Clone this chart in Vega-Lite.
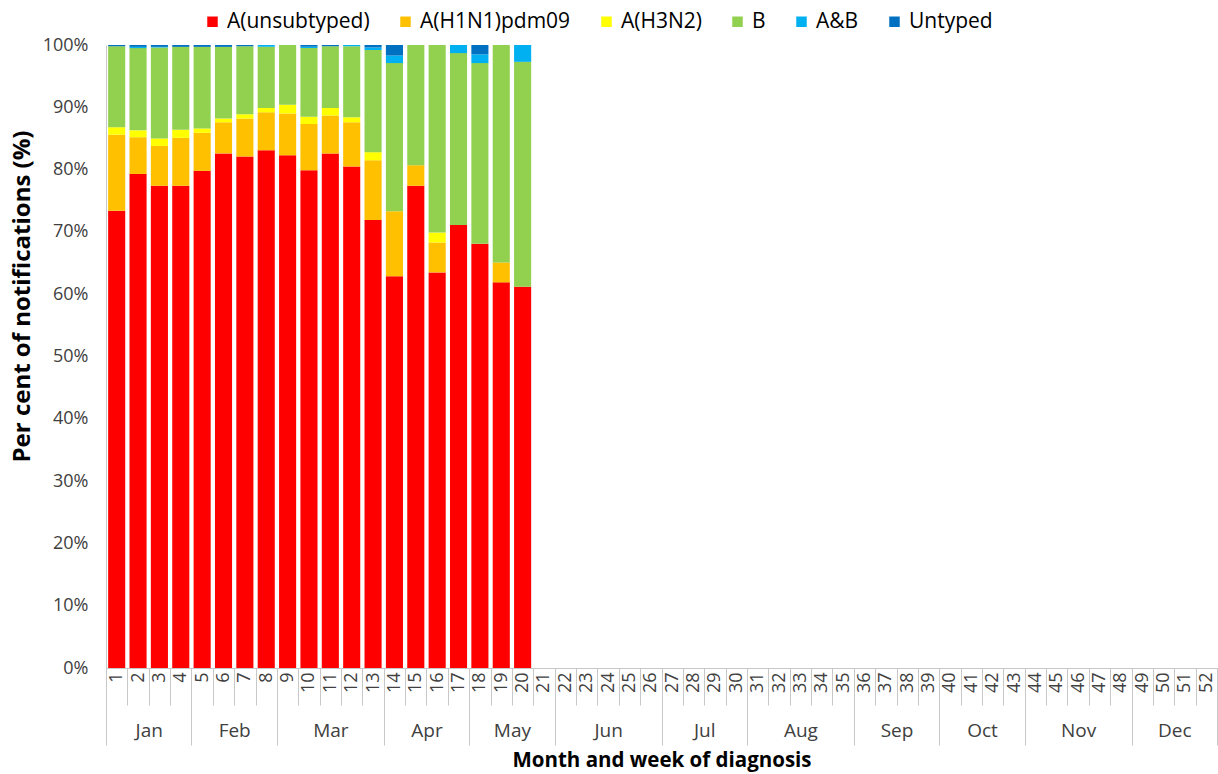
{
  "$schema": "https://vega.github.io/schema/vega-lite/v6.json",
  "width": 1111,
  "height": 623,
  "autosize": {"type": "none"},
  "padding": {"left": 106, "top": 45, "right": 1, "bottom": 106},
  "background": "white",
  "config": {
    "view": {"stroke": null},
    "font": "Open Sans",
    "axis": {"labelFont": "Open Sans", "titleFont": "Open Sans", "grid": false},
    "legend": {"labelFont": "Open Sans"}
  },
  "datasets": {
    "flu": [
      {"w": 1, "t": "A(unsubtyped)", "v": 73.4}, {"w": 1, "t": "A(H1N1)pdm09", "v": 12.2}, {"w": 1, "t": "A(H3N2)", "v": 1.2}, {"w": 1, "t": "B", "v": 13.0}, {"w": 1, "t": "Untyped", "v": 0.2},
      {"w": 2, "t": "A(unsubtyped)", "v": 79.3}, {"w": 2, "t": "A(H1N1)pdm09", "v": 5.9}, {"w": 2, "t": "A(H3N2)", "v": 1.1}, {"w": 2, "t": "B", "v": 13.2}, {"w": 2, "t": "A&B", "v": 0.2}, {"w": 2, "t": "Untyped", "v": 0.3},
      {"w": 3, "t": "A(unsubtyped)", "v": 77.4}, {"w": 3, "t": "A(H1N1)pdm09", "v": 6.4}, {"w": 3, "t": "A(H3N2)", "v": 1.2}, {"w": 3, "t": "B", "v": 14.6}, {"w": 3, "t": "A&B", "v": 0.1}, {"w": 3, "t": "Untyped", "v": 0.3},
      {"w": 4, "t": "A(unsubtyped)", "v": 77.4}, {"w": 4, "t": "A(H1N1)pdm09", "v": 7.7}, {"w": 4, "t": "A(H3N2)", "v": 1.3}, {"w": 4, "t": "B", "v": 13.3}, {"w": 4, "t": "Untyped", "v": 0.3},
      {"w": 5, "t": "A(unsubtyped)", "v": 79.8}, {"w": 5, "t": "A(H1N1)pdm09", "v": 6.1}, {"w": 5, "t": "A(H3N2)", "v": 0.7}, {"w": 5, "t": "B", "v": 13.1}, {"w": 5, "t": "Untyped", "v": 0.3},
      {"w": 6, "t": "A(unsubtyped)", "v": 82.6}, {"w": 6, "t": "A(H1N1)pdm09", "v": 5.0}, {"w": 6, "t": "A(H3N2)", "v": 0.6}, {"w": 6, "t": "B", "v": 11.5}, {"w": 6, "t": "Untyped", "v": 0.3},
      {"w": 7, "t": "A(unsubtyped)", "v": 82.1}, {"w": 7, "t": "A(H1N1)pdm09", "v": 6.1}, {"w": 7, "t": "A(H3N2)", "v": 0.7}, {"w": 7, "t": "B", "v": 10.9}, {"w": 7, "t": "Untyped", "v": 0.2},
      {"w": 8, "t": "A(unsubtyped)", "v": 83.1}, {"w": 8, "t": "A(H1N1)pdm09", "v": 6.1}, {"w": 8, "t": "A(H3N2)", "v": 0.7}, {"w": 8, "t": "B", "v": 9.8}, {"w": 8, "t": "A&B", "v": 0.3},
      {"w": 9, "t": "A(unsubtyped)", "v": 82.3}, {"w": 9, "t": "A(H1N1)pdm09", "v": 6.7}, {"w": 9, "t": "A(H3N2)", "v": 1.4}, {"w": 9, "t": "B", "v": 9.6},
      {"w": 10, "t": "A(unsubtyped)", "v": 79.9}, {"w": 10, "t": "A(H1N1)pdm09", "v": 7.4}, {"w": 10, "t": "A(H3N2)", "v": 1.2}, {"w": 10, "t": "B", "v": 11.0}, {"w": 10, "t": "A&B", "v": 0.2}, {"w": 10, "t": "Untyped", "v": 0.3},
      {"w": 11, "t": "A(unsubtyped)", "v": 82.6}, {"w": 11, "t": "A(H1N1)pdm09", "v": 6.1}, {"w": 11, "t": "A(H3N2)", "v": 1.2}, {"w": 11, "t": "B", "v": 9.9}, {"w": 11, "t": "Untyped", "v": 0.2},
      {"w": 12, "t": "A(unsubtyped)", "v": 80.5}, {"w": 12, "t": "A(H1N1)pdm09", "v": 7.1}, {"w": 12, "t": "A(H3N2)", "v": 0.8}, {"w": 12, "t": "B", "v": 11.4}, {"w": 12, "t": "A&B", "v": 0.2},
      {"w": 13, "t": "A(unsubtyped)", "v": 71.9}, {"w": 13, "t": "A(H1N1)pdm09", "v": 9.6}, {"w": 13, "t": "A(H3N2)", "v": 1.3}, {"w": 13, "t": "B", "v": 16.4}, {"w": 13, "t": "A&B", "v": 0.4}, {"w": 13, "t": "Untyped", "v": 0.4},
      {"w": 14, "t": "A(unsubtyped)", "v": 62.9}, {"w": 14, "t": "A(H1N1)pdm09", "v": 10.4}, {"w": 14, "t": "B", "v": 23.8}, {"w": 14, "t": "A&B", "v": 1.2}, {"w": 14, "t": "Untyped", "v": 1.7},
      {"w": 15, "t": "A(unsubtyped)", "v": 77.4}, {"w": 15, "t": "A(H1N1)pdm09", "v": 3.3}, {"w": 15, "t": "B", "v": 19.3},
      {"w": 16, "t": "A(unsubtyped)", "v": 63.5}, {"w": 16, "t": "A(H1N1)pdm09", "v": 4.8}, {"w": 16, "t": "A(H3N2)", "v": 1.6}, {"w": 16, "t": "B", "v": 30.1},
      {"w": 17, "t": "A(unsubtyped)", "v": 71.1}, {"w": 17, "t": "B", "v": 27.6}, {"w": 17, "t": "A&B", "v": 1.3},
      {"w": 18, "t": "A(unsubtyped)", "v": 68.1}, {"w": 18, "t": "B", "v": 29.0}, {"w": 18, "t": "A&B", "v": 1.4}, {"w": 18, "t": "Untyped", "v": 1.5},
      {"w": 19, "t": "A(unsubtyped)", "v": 61.9}, {"w": 19, "t": "A(H1N1)pdm09", "v": 3.2}, {"w": 19, "t": "B", "v": 34.9},
      {"w": 20, "t": "A(unsubtyped)", "v": 61.2}, {"w": 20, "t": "B", "v": 36.1}, {"w": 20, "t": "A&B", "v": 2.7}
    ],
    "months": [
      {"m": "Jan", "first": 1}, {"m": "Feb", "first": 5}, {"m": "Mar", "first": 9}, {"m": "Apr", "first": 14},
      {"m": "May", "first": 18}, {"m": "Jun", "first": 22}, {"m": "Jul", "first": 27}, {"m": "Aug", "first": 31},
      {"m": "Sep", "first": 36}, {"m": "Oct", "first": 40}, {"m": "Nov", "first": 44}, {"m": "Dec", "first": 49}
    ]
  },
  "layer": [
    {
      "data": {"name": "flu"},
      "transform": [
        {"calculate": "indexof(['A(unsubtyped)', 'A(H1N1)pdm09', 'A(H3N2)', 'B', 'A&B', 'Untyped'], datum.t)", "as": "k"}
      ],
      "mark": {"type": "bar", "width": {"band": 0.8}},
      "encoding": {
        "x": {
          "field": "w", "type": "ordinal",
          "scale": {"domain": [1,2,3,4,5,6,7,8,9,10,11,12,13,14,15,16,17,18,19,20,21,22,23,24,25,26,27,28,29,30,31,32,33,34,35,36,37,38,39,40,41,42,43,44,45,46,47,48,49,50,51,52], "paddingInner": 0, "paddingOuter": 0},
          "axis": {
            "orient": "bottom", "title": null, "labelAngle": -90, "labelFontSize": 18, "labelColor": "#404040",
            "labelPadding": -33, "labelOverlap": false, "labelAlign": "right", "labelBaseline": "middle",
            "tickBand": "extent", "tickSize": 37, "tickColor": "#c8c8c8", "domainColor": "#c8c8c8"
          }
        },
        "y": {
          "field": "v", "type": "quantitative", "stack": "zero",
          "scale": {"domain": [0, 100], "nice": false},
          "axis": {
            "title": "Per cent of notifications (%)", "titleFontSize": 24, "titleFontWeight": "bold", "titleColor": "#000000", "titlePadding": 8, "titleY": 251,
            "values": [0,10,20,30,40,50,60,70,80,90,100], "labelExpr": "datum.value + '%'",
            "labelFontSize": 18, "labelColor": "#404040", "labelPadding": 18, "ticks": false, "domainColor": "#c8c8c8"
          }
        },
        "color": {
          "field": "t", "type": "nominal",
          "scale": {
            "domain": ["A(unsubtyped)", "A(H1N1)pdm09", "A(H3N2)", "B", "A&B", "Untyped"],
            "range": ["#FF0000", "#FFC000", "#FFFF00", "#92D050", "#00B0F0", "#0070C0"]
          },
          "legend": {
            "title": null, "orient": "none", "legendX": 96, "legendY": -34, "direction": "horizontal", "columns": 6,
            "symbolType": "square", "symbolSize": 110, "symbolStrokeWidth": 0, "labelFontSize": 21, "labelColor": "#000000",
            "columnPadding": 25, "labelOffset": 4
          }
        },
        "order": {"field": "k", "type": "quantitative", "sort": "ascending"}
      }
    },
    {
      "data": {"name": "months"},
      "mark": {"type": "point", "opacity": 0},
      "encoding": {
        "x": {
          "field": "first", "type": "quantitative",
          "scale": {"domain": [1, 53], "nice": false, "zero": false},
          "axis": {
            "orient": "bottom", "offset": 0, "title": null, "values": [1,5,9,14,18,22,27,31,36,40,44,49,53], "labels": false, "domain": false,
            "tickSize": 77, "tickColor": "#c8c8c8"
          }
        }
      }
    },
    {
      "data": {"name": "months"},
      "mark": {"type": "point", "opacity": 0},
      "encoding": {
        "x": {
          "field": "first", "type": "quantitative",
          "scale": {"domain": [1, 53], "nice": false, "zero": false},
          "axis": {
            "orient": "bottom", "offset": 0,
            "title": "Month and week of diagnosis", "titleFontSize": 20.5, "titleFontWeight": "bold", "titleColor": "#000000", "titlePadding": 10,
            "values": [3, 7, 11.5, 16, 20, 24.5, 29, 33.5, 38, 42, 46.5, 51],
            "labelExpr": "['Jan','Feb','Mar','Apr','May','Jun','Jul','Aug','Sep','Oct','Nov','Dec'][indexof([3, 7, 11.5, 16, 20, 24.5, 29, 33.5, 38, 42, 46.5, 51], datum.value)]",
            "labelFontSize": 19, "labelColor": "#404040", "labelPadding": 53, "ticks": false, "domain": false, "labelOverlap": false
          }
        }
      }
    }
  ],
  "resolve": {"scale": {"x": "independent"}, "axis": {"x": "independent"}}
}
